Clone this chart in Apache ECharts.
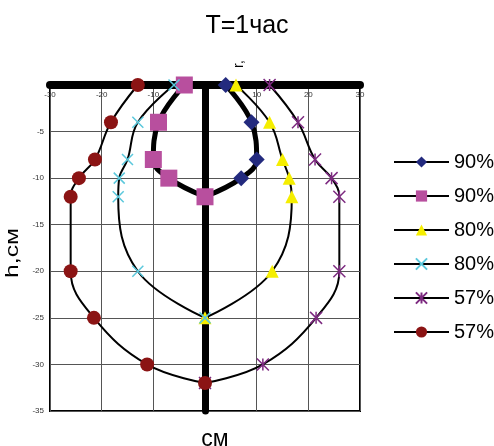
<!DOCTYPE html>
<html>
<head>
<meta charset="utf-8">
<script src="https://cdn.jsdelivr.net/npm/echarts@6/dist/echarts.min.js"></script>
<style>
  html, body { margin: 0; padding: 0; background: #fff; }
  #main { width: 494px; height: 446px; }
</style>
</head>
<body>
<div id="main"></div>
<script>
// depth (h, cm) of the measured points
var depth90 = [0, -4, -8, -10, -12];
var depth80 = [0, -4, -8, -10, -12, -20, -25];
var depth57 = [0, -4, -8, -10, -12, -20, -25, -30, -32];

// radius (r, cm) per series
var r90a = [4, 9, 10, 7, 0];
var r90b = [-4, -9, -10, -7, 0];
var r80a = [6, 12.5, 15, 16.3, 16.8, 13, 0];
var r80b = [-6, -13, -15, -16.6, -16.8, -13, 0];
var r57a = [12.5, 18, 21.3, 24.5, 26, 26, 21.5, 11.2, 0];
var r57b = [-13, -18.2, -21.3, -24.4, -26, -26, -21.5, -11.2, 0];

var legendLabels = ['90%', '90%', '80%', '80%', '57%', '57%'];

var xPath = 'path://M0,0L10,10M10,0L0,10';
var starPath = 'path://M0,0L10,10M10,0L0,10M5,0L5,10';

function pairs(xs, ys) {
  var out = [];
  for (var i = 0; i < xs.length; i++) out.push([xs[i], ys[i]]);
  return out;
}

function makeSeries(idx, xs, ys, symbol, size, color, width, stroke) {
  var s = {
    name: 's' + idx,
    type: 'line',
    smooth: 0.4,
    clip: false,
    symbol: symbol,
    symbolSize: size,
    data: pairs(xs, ys),
    lineStyle: { color: '#000', width: width },
    itemStyle: { color: color, opacity: 1 }
  };
  if (stroke) {
    s.itemStyle = { color: 'none', borderColor: color, borderWidth: 1.5, opacity: 1 };
  }
  return s;
}

var chart = echarts.init(document.getElementById('main'));

var option = {
  animation: false,
  backgroundColor: '#fff',
  title: {
    text: 'T=1час',
    left: 'center',
    top: 9,
    textStyle: { fontFamily: 'Liberation Sans', fontWeight: 'normal', fontSize: 25, color: '#000' }
  },
  legend: {
    orient: 'vertical',
    left: 388,
    top: 147,
    itemWidth: 55,
    itemHeight: 14,
    itemGap: 14,
    textStyle: { fontFamily: 'Liberation Sans', fontSize: 20, color: '#000' },
    formatter: function (name) {
      return legendLabels[+name.slice(1)];
    }
  },
  grid: {
    left: 50,
    right: 134,
    top: 85,
    bottom: 35,
    show: true,
    borderColor: '#000',
    borderWidth: 2
  },
  xAxis: {
    type: 'value',
    position: 'top',
    min: -30,
    max: 30,
    interval: 10,
    axisLine: { show: true, onZero: true, lineStyle: { color: '#000', width: 8 } },
    axisTick: { show: false },
    axisLabel: {
      inside: true,
      margin: 6,
      fontSize: 8,
      color: '#333',
      fontFamily: 'Liberation Sans',
      showMinLabel: true,
      showMaxLabel: true,
      formatter: function (v) { return v === 0 ? '' : v; }
    },
    splitLine: { show: true, lineStyle: { color: '#555', width: 1 } }
  },
  yAxis: {
    type: 'value',
    min: -35,
    max: 0,
    interval: 5,
    axisLine: { show: true, onZero: true, lineStyle: { color: '#000', width: 7 } },
    axisTick: { show: false },
    axisLabel: {
      margin: 6,
      fontSize: 8,
      color: '#333',
      fontFamily: 'Liberation Sans',
      formatter: function (v) { return v === 0 ? '' : v; }
    },
    splitLine: { show: true, lineStyle: { color: '#555', width: 1 } }
  },
  graphic: [
    {
      type: 'text', x: 13, y: 253, rotation: Math.PI / 2, scaleX: 1.3,
      style: { text: 'h,см', font: '19px "Liberation Sans"', fill: '#000', textAlign: 'center', textVerticalAlign: 'middle' }
    },
    {
      type: 'text', x: 215, y: 440,
      style: { text: 'см', font: '23px "Liberation Sans"', fill: '#000', textAlign: 'center', textVerticalAlign: 'middle' }
    },
    {
      type: 'text', x: 239, y: 64, rotation: Math.PI / 2,
      style: { text: 'r,', font: '14px "Liberation Sans"', fill: '#000', textAlign: 'center', textVerticalAlign: 'middle' }
    }
  ],
  series: [
    makeSeries(0, r90a, depth90, 'diamond', 16, '#232a7e', 5),
    makeSeries(1, r90b, depth90, 'rect', 17, '#b84f9e', 5),
    makeSeries(2, r80a, depth80, 'triangle', 13, '#f5ee00', 2),
    makeSeries(3, r80b, depth80, xPath, 11, '#5bc8dc', 2, true),
    makeSeries(4, r57a, depth57, starPath, 12, '#7d2a80', 2, true),
    makeSeries(5, r57b, depth57, 'circle', 14, '#8b1414', 2)
  ]
};

chart.setOption(option);
</script>
</body>
</html>
